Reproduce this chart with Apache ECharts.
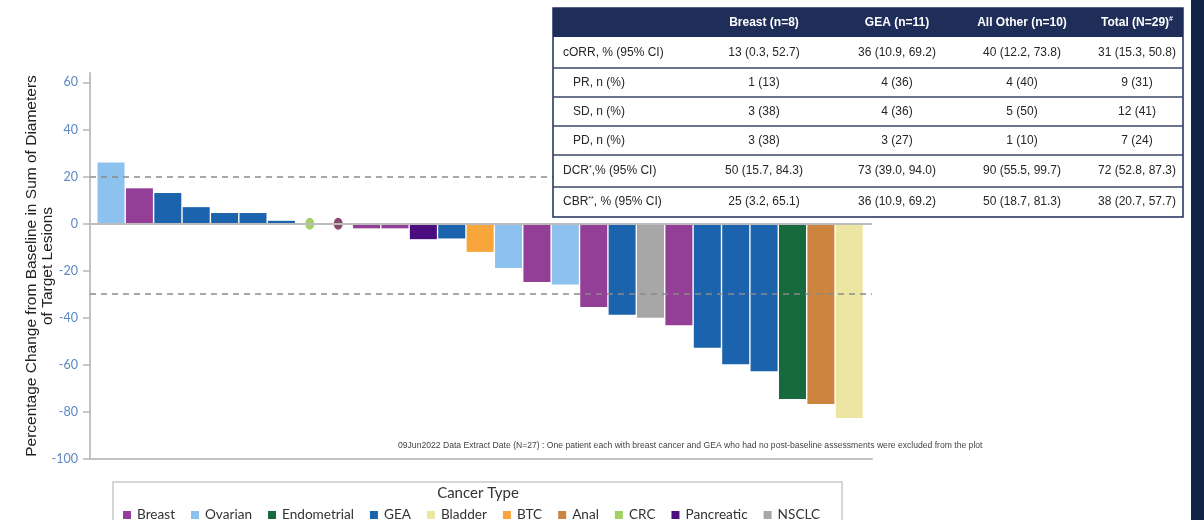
<!DOCTYPE html>
<html>
<head>
<meta charset="utf-8">
<script src="https://cdn.jsdelivr.net/npm/echarts@6/dist/echarts.min.js"></script>
<style>
  html, body { margin: 0; padding: 0; background: #ffffff; }
  #chart { width: 1204px; height: 520px; }
</style>
</head>
<body>
<div id="chart"></div>
<script>
// Best percentage change in target lesions, one bar per patient (sorted)
const cancerTypes = ['Breast', 'Ovarian', 'Endometrial', 'GEA', 'Bladder', 'BTC', 'Anal', 'CRC', 'Pancreatic', 'NSCLC'];
const patientType = ['Ovarian', 'Breast', 'GEA', 'GEA', 'GEA', 'GEA', 'GEA', 'CRC', 'Pancreatic',
  'Breast', 'Breast', 'Pancreatic', 'GEA', 'BTC', 'Ovarian', 'Breast', 'Ovarian', 'Breast', 'GEA',
  'NSCLC', 'Breast', 'GEA', 'GEA', 'GEA', 'Endometrial', 'Anal', 'Bladder'];
const pctChange = [26, 15, 13, 7, 4.5, 4.5, 1.2, 0, 0,
  -2, -2, -6.6, -6.3, -12, -18.8, -24.8, -25.9, -35.4, -38.7,
  -40, -43.2, -52.7, -59.7, -62.7, -74.5, -76.6, -82.6];
const responseThresholds = [20, -30];
const yTicks = [-100, -80, -60, -40, -20, 0, 20, 40, 60];

// Response summary table
const tableHeader = ['', 'Breast (n=8)', 'GEA (n=11)', 'All Other (n=10)', 'Total (N=29){sup|#}'];
const tableRows = [
  ['cORR, % (95% CI)', '13 (0.3, 52.7)', '36 (10.9, 69.2)', '40 (12.2, 73.8)', '31 (15.3, 50.8)'],
  ['PR, n (%)', '1 (13)', '4 (36)', '4 (40)', '9 (31)'],
  ['SD, n (%)', '3 (38)', '4 (36)', '5 (50)', '12 (41)'],
  ['PD, n (%)', '3 (38)', '3 (27)', '1 (10)', '7 (24)'],
  ['DCR{sup|*},% (95% CI)', '50 (15.7, 84.3)', '73 (39.0, 94.0)', '90 (55.5, 99.7)', '72 (52.8, 87.3)'],
  ['CBR{sup|**}, % (95% CI)', '25 (3.2, 65.1)', '36 (10.9, 69.2)', '50 (18.7, 81.3)', '38 (20.7, 57.7)']
];
const indentedRows = [1, 2, 3];
const footnote = '09Jun2022 Data Extract Date (N=27) : One patient each with breast cancer and GEA who had no post-baseline assessments were excluded from the plot';

// Styling
const typeColors = {
  Breast: '#933e97', Ovarian: '#8ec2ee', Endometrial: '#176a3e', GEA: '#1b63ad',
  Bladder: '#ede6a3', BTC: '#f8a53b', Anal: '#cd843f', CRC: '#8cc63f',
  Pancreatic: '#4a0e7e', NSCLC: '#a7a7a7'
};
const zeroMarkerColors = { CRC: '#8cc63f', Pancreatic: '#6c1b4d' };
const FONT = '"Liberation Sans", Arial, sans-serif';
const NAVY = '#1f2d59';

const series = [];
cancerTypes.forEach(function (t) {
  const bars = [], dots = [];
  pctChange.forEach(function (v, i) {
    if (patientType[i] !== t) return;
    (v === 0 ? dots : bars).push([i, v]);
  });
  if (bars.length) {
    series.push({
      type: 'bar', name: t, data: bars, barWidth: 27, barGap: '-100%',
      itemStyle: { color: typeColors[t] }, z: 3
    });
  }
  if (dots.length) {
    series.push({
      type: 'scatter', name: t, data: dots, symbol: 'circle', symbolSize: [9, 12],
      itemStyle: { color: zeroMarkerColors[t] || typeColors[t] }, z: 4
    });
  }
});
// Baseline and response threshold lines
series.push({
  type: 'line', name: 'ref', data: [], silent: true, z: 2,
  markLine: {
    silent: true, symbol: 'none', label: { show: false }, animation: false,
    data: [{ yAxis: 0, lineStyle: { type: 'solid', color: '#bcbcbc', width: 2 } }]
      .concat(responseThresholds.map(function (v) {
        return { yAxis: v, lineStyle: { type: [6, 5], color: '#8a8a8a', width: 1.5 } };
      }))
  }
});

// Table drawn as graphic elements
const tbl = { left: 553, right: 1183, rowY: [8, 37, 68, 97, 126, 155, 187, 217], colX: [563, 764, 897, 1022, 1137] };
const tableEls = [];
tableEls.push({ type: 'rect', shape: { x: tbl.left, y: tbl.rowY[0], width: tbl.right - tbl.left, height: tbl.rowY[7] - tbl.rowY[0] },
  style: { fill: '#ffffff', stroke: NAVY, lineWidth: 1.5 }, z: 10 });
tableEls.push({ type: 'rect', shape: { x: tbl.left, y: tbl.rowY[0], width: tbl.right - tbl.left, height: tbl.rowY[1] - tbl.rowY[0] },
  style: { fill: NAVY }, z: 11 });
for (let r = 2; r < 7; r++) {
  tableEls.push({ type: 'line', shape: { x1: tbl.left, y1: tbl.rowY[r], x2: tbl.right, y2: tbl.rowY[r] },
    style: { stroke: '#3a4666', lineWidth: 1.5 }, z: 11 });
}
const supStyle = { fontSize: 7, verticalAlign: 'top', padding: [0, 0, 6, 0] };
tableHeader.forEach(function (h, c) {
  if (!h) return;
  tableEls.push({ type: 'text', x: tbl.colX[c], y: (tbl.rowY[0] + tbl.rowY[1]) / 2, z: 12,
    style: { text: h, fill: '#ffffff', font: 'bold 12px ' + FONT, align: 'center', verticalAlign: 'middle',
      rich: { sup: Object.assign({ fill: '#ffffff', fontWeight: 'bold' }, supStyle) } } });
});
tableRows.forEach(function (row, r) {
  const yc = (tbl.rowY[r + 1] + tbl.rowY[r + 2]) / 2;
  row.forEach(function (cell, c) {
    const isLabel = c === 0;
    const x = isLabel ? tbl.colX[0] + (indentedRows.indexOf(r) >= 0 ? 10 : 0) : tbl.colX[c];
    tableEls.push({ type: 'text', x: x, y: yc, z: 12,
      style: { text: cell, fill: '#262626', font: '12px ' + FONT, align: isLabel ? 'left' : 'center', verticalAlign: 'middle',
        rich: { sup: Object.assign({ fill: '#262626' }, supStyle) } } });
  });
});

const chart = echarts.init(document.getElementById('chart'), null, { renderer: 'canvas' });
chart.setOption({
  backgroundColor: '#ffffff',
  animation: false,
  grid: { left: 90, top: 73, width: 782, height: 386, containLabel: false },
  xAxis: {
    type: 'value', min: -0.74, max: 26.8,
    axisLine: { show: true, onZero: false, lineStyle: { color: '#c2c2c2', width: 2 } },
    axisTick: { show: false }, axisLabel: { show: false }, splitLine: { show: false }
  },
  yAxis: {
    type: 'value', min: -100, max: 64,
    name: 'Percentage Change from Baseline in Sum of Diameters\nof Target Lesions',
    nameLocation: 'middle', nameGap: 34, nameMoveOverlap: false,
    nameTextStyle: { fontFamily: FONT, fontSize: 15.5, color: '#222222', lineHeight: 16, align: 'center' },
    axisLine: { show: true, onZero: false, lineStyle: { color: '#c2c2c2', width: 2 } },
    axisTick: { show: true, length: 7, customValues: yTicks, lineStyle: { color: '#b8b8b8', width: 1.5 } },
    axisLabel: { customValues: yTicks, color: '#5a89c4', fontFamily: 'Lato, sans-serif', fontSize: 12.5, margin: 12 },
    splitLine: { show: false }
  },
  legend: {
    data: cancerTypes, left: 118, top: 503, orient: 'horizontal',
    icon: 'rect', itemWidth: 8, itemHeight: 8, itemGap: 16,
    textStyle: { fontFamily: 'Lato, sans-serif', fontSize: 13.6, color: '#333333', padding: [0, 0, 0, 1] },
    selectedMode: false
  },
  series: series,
  graphic: [
    { type: 'rect', shape: { x: 113, y: 482, width: 729, height: 60 }, style: { fill: 'none', stroke: '#c8c8c8', lineWidth: 1.5 }, z: 0 },
    { type: 'text', x: 478, y: 493, style: { text: 'Cancer Type', font: '15px Lato, sans-serif', fill: '#333333', align: 'center', verticalAlign: 'middle' } },
    { type: 'text', x: 398, y: 446, style: { text: footnote, font: '8.6px ' + FONT, fill: '#444444', align: 'left', verticalAlign: 'middle' } },
    { type: 'rect', shape: { x: 1191, y: 0, width: 13, height: 520 }, style: { fill: '#0f2346' }, z: 10 }
  ].concat(tableEls)
});
</script>
</body>
</html>
